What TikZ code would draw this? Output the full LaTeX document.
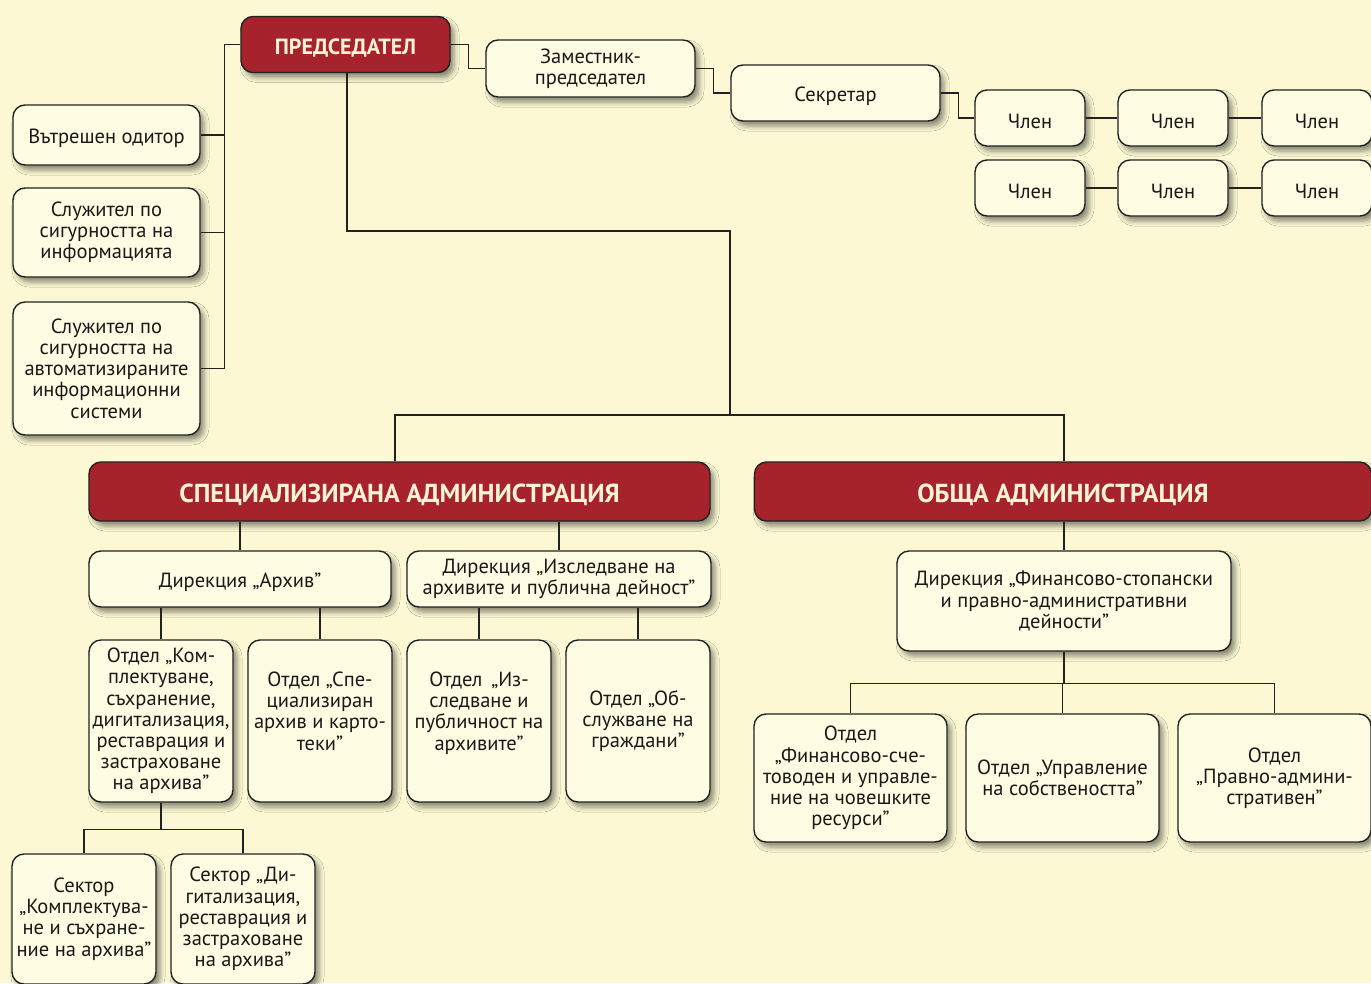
\documentclass[tikz,border=0pt]{standalone}
\usepackage{fontspec}
\setmainfont{PT Sans}
\usetikzlibrary{shadows.blur}
\definecolor{bgc}{HTML}{FBF8D3}
\definecolor{boxfill}{HTML}{FEFCE3}
\definecolor{redc}{HTML}{A6232B}
\definecolor{cream}{HTML}{FBF3D6}
\definecolor{linec}{HTML}{222222}
\newcommand{\boxfont}{\fontsize{20.5}{21.2}\selectfont}
\newcommand{\redfont}{\fontsize{22}{24}\selectfont\bfseries}
\newcommand{\bigredfont}{\fontsize{26}{28}\selectfont\bfseries}
\tikzset{
  box/.style={draw=linec, line width=1.4pt, rounded corners=12pt, fill=boxfill,
    align=center, inner sep=1pt, font=\boxfont, text=black!90,
    execute at begin node={\rule{0pt}{1.0em}},
    blur shadow={shadow xshift=4pt, shadow yshift=-5pt, shadow blur radius=5pt, shadow opacity=45}},
  redbox/.style={box, fill=redc, text=cream, font=\redfont},
  bigred/.style={redbox, font=\bigredfont},
  conn/.style={draw=linec, line width=1.4pt}
}
\begin{document}
\begin{tikzpicture}[x=1pt,y=-1pt]
\fill[bgc] (0,0) rectangle (1371,983);
\useasboundingbox (0,0) rectangle (1371,983);
% top row
\node[redbox, minimum width=209pt, minimum height=56pt] (pred) at (345.5,44.5) {ПРЕДСЕДАТЕЛ};
\node[box, minimum width=209pt, minimum height=57pt] (zam) at (590.5,68.5) {Заместник-\\председател};
\node[box, minimum width=209pt, minimum height=56pt] (sek) at (835.5,93) {Секретар};
\node[box, minimum width=110pt, minimum height=56pt] (c1) at (1030,118) {Член};
\node[box, minimum width=110pt, minimum height=56pt] (c2) at (1173,118) {Член};
\node[box, minimum width=110pt, minimum height=56pt] (c3) at (1317,118) {Член};
\node[box, minimum width=110pt, minimum height=56pt] (c4) at (1030,188) {Член};
\node[box, minimum width=110pt, minimum height=56pt] (c5) at (1173,188) {Член};
\node[box, minimum width=110pt, minimum height=56pt] (c6) at (1317,188) {Член};
% left column
\node[box, minimum width=187pt, minimum height=60pt] (aud) at (106.5,135) {Вътрешен одитор};
\node[box, minimum width=187pt, minimum height=89pt] (sl1) at (106.5,232.5) {Служител по\\сигурността на\\информацията};
\node[box, minimum width=187pt, minimum height=133pt] (sl2) at (106.5,368.5) {Служител по\\сигурността на\\автоматизираните\\информационни\\системи};
% admin
\node[bigred, minimum width=621pt, minimum height=59pt] (spec) at (399.5,491.5) {СПЕЦИАЛИЗИРАНА АДМИНИСТРАЦИЯ};
\node[bigred, minimum width=617pt, minimum height=59pt] (obsh) at (1063,491.5) {ОБЩА АДМИНИСТРАЦИЯ};
% directorates
\node[box, minimum width=302pt, minimum height=56pt] (dirA) at (240,579) {Дирекция „Архив”};
\node[box, minimum width=304pt, minimum height=56pt] (dirI) at (559,579) {Дирекция „Изследване на\\архивите и публична дейност”};
\node[box, minimum width=334pt, minimum height=100pt] (dirF) at (1064,601) {Дирекция „Финансово-стопански\\и правно-административни\\дейности”};
% departments
\node[box, minimum width=144pt, minimum height=162pt] (o1) at (161,721) {Отдел „Ком-\\плектуване,\\съхранение,\\дигитализация,\\реставрация и\\застраховане\\на архива”};
\node[box, minimum width=144pt, minimum height=162pt] (o2) at (320,721) {Отдел „Спе-\\циализиран\\архив и карто-\\теки”\\[-1pt]};
\node[box, minimum width=144pt, minimum height=162pt] (o3) at (479,721) {Отдел \,„Из-\\следване и\\публичност на\\архивите”\\[-1pt]};
\node[box, minimum width=144pt, minimum height=162pt] (o4) at (638,721) {Отдел „Об-\\служване на\\граждани”};
\node[box, minimum width=193pt, minimum height=128pt] (f1) at (850.5,778) {Отдел\\„Финансово-сче-\\товоден и управле-\\ние на човешките\\ресурси”};
\node[box, minimum width=193pt, minimum height=128pt] (f2) at (1062.5,778) {Отдел „Управление\\на собствеността”};
\node[box, minimum width=193pt, minimum height=128pt] (f3) at (1274.5,778) {Отдел\\„Правно-админи-\\стративен”};
% sectors
\node[box, minimum width=144pt, minimum height=130pt] (s1) at (84,919) {Сектор\\„Комплектува-\\не и съхране-\\ние на архива”};
\node[box, minimum width=144pt, minimum height=130pt] (s2) at (243,919) {Сектор „Ди-\\гитализация,\\реставрация и\\застраховане\\на архива”};
% connectors
\draw[conn] (pred.east) -- ++(18,0) |- (zam.west);
\draw[conn] (zam.east) -- ++(18,0) |- (sek.west);
\draw[conn] (sek.east) -- ++(18,0) |- (c1.west);
\draw[conn] (c1.east) -- (c2.west);
\draw[conn] (c2.east) -- (c3.west);
\draw[conn] (c4.east) -- (c5.west);
\draw[conn] (c5.east) -- (c6.west);
\draw[conn] (pred.west) -- ++(-16,0) coordinate (lc) |- (sl2.east);
\draw[conn] (lc) |- (aud.east);
\draw[conn] (lc) |- (sl1.east);
\coordinate (hub) at (730,415);
\draw[conn] (pred.south -| 347,0) |- (hub |- 0,231) -- (hub);
\draw[conn] (spec.north -| 395,0) |- (hub) -| (obsh.north -| 1064,0);
\draw[conn] (spec.south -| dirA.north) -- (dirA.north);
\draw[conn] (spec.south -| dirI.north) -- (dirI.north);
\draw[conn] (obsh.south -| dirF.north) -- (dirF.north);
\draw[conn] (dirA.south -| o1.north) -- (o1.north);
\draw[conn] (dirA.south -| o2.north) -- (o2.north);
\draw[conn] (dirI.south -| o3.north) -- (o3.north);
\draw[conn] (dirI.south -| o4.north) -- (o4.north);
\draw[conn] (o1.south) -- ++(0,27) coordinate (sj) -| (s1.north);
\draw[conn] (sj) -| (s2.north);
\draw[conn] (dirF.south) -- ++(0,32) coordinate (fj) -| (f1.north);
\draw[conn] (fj) -| (f3.north);
\draw[conn] (fj -| f2.north) -- (f2.north);
\end{tikzpicture}
\end{document}
